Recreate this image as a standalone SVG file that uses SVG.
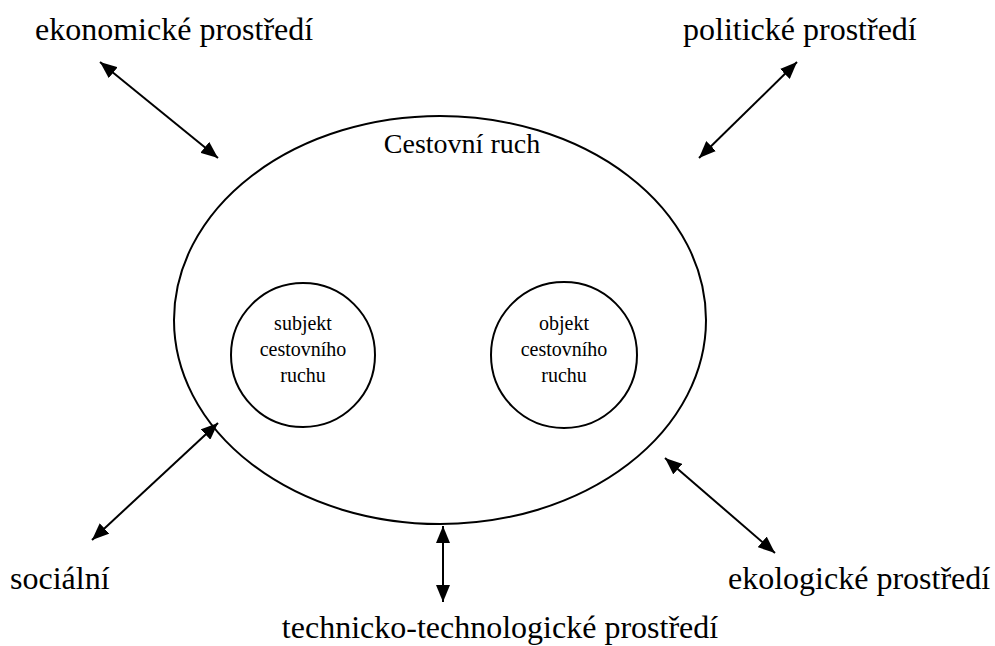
<svg xmlns="http://www.w3.org/2000/svg" width="995" height="646" viewBox="0 0 995 646">
<style>
text{font-family:"Liberation Serif","Times New Roman","DejaVu Serif",serif;fill:#000}
.lbl{font-size:32px}
.title{font-size:28px}
.in{font-size:20px;text-anchor:middle}
.shape{fill:none;stroke:#000;stroke-width:2}
.con{stroke:#000;stroke-width:2;fill:none;marker-start:url(#ah);marker-end:url(#ah)}
</style>
<defs>
<marker id="ah" viewBox="0 0 17 14" refX="17" refY="7" markerWidth="17" markerHeight="14" orient="auto-start-reverse" markerUnits="userSpaceOnUse">
<path d="M0,0 L17,7 L0,14 z" fill="#000"/>
</marker>
</defs>
<rect width="995" height="646" fill="#fff"/>
<g id="cestovni-ruch">
<ellipse class="shape" cx="440" cy="320" rx="266" ry="204"/>
<text class="title" x="462" y="153" text-anchor="middle" font-family="Liberation Serif, serif">Cestovní ruch</text>
</g>
<g id="subjekt">
<circle class="shape" cx="303" cy="355" r="72"/>
<text class="in" x="303" y="330" font-family="Liberation Serif, serif">subjekt</text>
<text class="in" x="303" y="356" font-family="Liberation Serif, serif">cestovního</text>
<text class="in" x="303" y="382" font-family="Liberation Serif, serif">ruchu</text>
</g>
<g id="objekt">
<circle class="shape" cx="564" cy="355" r="73"/>
<text class="in" x="564" y="330" font-family="Liberation Serif, serif">objekt</text>
<text class="in" x="564" y="356" font-family="Liberation Serif, serif">cestovního</text>
<text class="in" x="564" y="382" font-family="Liberation Serif, serif">ruchu</text>
</g>
<g id="ekonomicke"><text class="lbl" x="35" y="40" font-family="Liberation Serif, serif">ekonomické prostředí</text></g>
<g id="politicke"><text class="lbl" x="683" y="40" font-family="Liberation Serif, serif">politické prostředí</text></g>
<g id="socialni"><text class="lbl" x="10" y="589" font-family="Liberation Serif, serif">sociální</text></g>
<g id="ekologicke"><text class="lbl" x="728" y="589" font-family="Liberation Serif, serif">ekologické prostředí</text></g>
<g id="technicke"><text class="lbl" x="500" y="638" text-anchor="middle" font-family="Liberation Serif, serif">technicko-technologické prostředí</text></g>
<g id="connectors">
<line class="con" x1="100" y1="62" x2="218" y2="158"/>
<line class="con" x1="797" y1="62" x2="699" y2="158"/>
<line class="con" x1="92" y1="540" x2="218" y2="423"/>
<line class="con" x1="665" y1="458" x2="775" y2="553"/>
<line class="con" x1="443" y1="526" x2="443" y2="602"/>
</g>
</svg>
